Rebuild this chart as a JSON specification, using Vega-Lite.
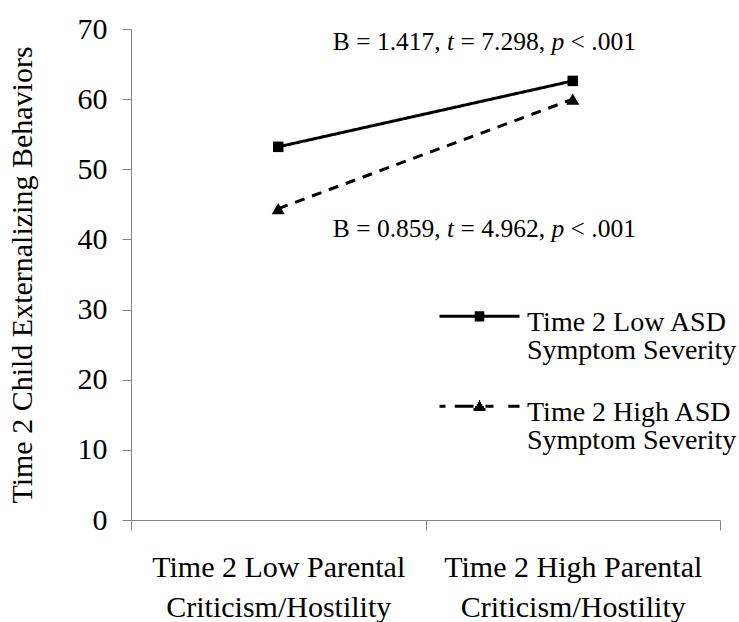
{
  "$schema": "https://vega.github.io/schema/vega-lite/v6.json",
  "width": 589,
  "height": 491,
  "autosize": {"type": "none"},
  "padding": {"left": 131, "top": 29, "right": 19, "bottom": 102},
  "background": "white",
  "config": {
    "view": {"stroke": null},
    "font": "Liberation Serif",
    "style": {"guide-label": {"font": "Liberation Serif", "lineHeight": 28}, "guide-title": {"font": "Liberation Serif"}},
    "axis": {"grid": false, "domainColor": "#868686", "tickColor": "#868686", "domainWidth": 1, "tickWidth": 1, "labelColor": "black", "titleColor": "black", "labelFont": "Liberation Serif", "titleFont": "Liberation Serif", "titleFontWeight": "normal"},
    "legend": {"labelFont": "Liberation Serif"}
  },
  "datasets": {
    "main": [
      {"pc": "Time 2 Low Parental Criticism/Hostility", "asd": "Time 2 Low ASD Symptom Severity", "value": 53.2},
      {"pc": "Time 2 High Parental Criticism/Hostility", "asd": "Time 2 Low ASD Symptom Severity", "value": 62.6},
      {"pc": "Time 2 Low Parental Criticism/Hostility", "asd": "Time 2 High ASD Symptom Severity", "value": 44.4},
      {"pc": "Time 2 High Parental Criticism/Hostility", "asd": "Time 2 High ASD Symptom Severity", "value": 60.0}
    ],
    "ann": [
      {"pc": "Time 2 High Parental Criticism/Hostility", "yv": 67.0, "b": "B = 1.417,", "tv": "= 7.298,", "pv": "< .001"},
      {"pc": "Time 2 High Parental Criticism/Hostility", "yv": 40.35, "b": "B = 0.859,", "tv": "= 4.962,", "pv": "< .001"}
    ]
  },
  "encoding": {
    "x": {
      "field": "pc", "type": "nominal",
      "sort": ["Time 2 Low Parental Criticism/Hostility", "Time 2 High Parental Criticism/Hostility"],
      "scale": {"type": "band", "paddingInner": 0, "paddingOuter": 0},
      "axis": {"title": null, "labelAngle": 0, "tickBand": "extent", "tickSize": 10, "labelFont": "Liberation Serif", "labelFontSize": 30, "labelLineHeight": 40, "labelPadding": 22, "labelLimit": 500,
        "labelExpr": "split(replace(datum.label, ' Criticism', '|Criticism'), '|')"}
    }
  },
  "layer": [
    {
      "data": {"name": "main"},
      "mark": {"type": "line", "color": "black", "strokeWidth": 3},
      "encoding": {
        "y": {"field": "value", "type": "quantitative", "scale": {"domain": [0, 70], "nice": false},
          "axis": {"title": "Time 2 Child Externalizing Behaviors", "titleFont": "Liberation Serif", "titleFontSize": 30, "titlePadding": 40, "values": [0, 10, 20, 30, 40, 50, 60, 70], "tickSize": 9, "labelPadding": 15, "labelFont": "Liberation Serif", "labelFontSize": 30}},
        "detail": {"field": "asd"},
        "strokeDash": {"field": "asd", "type": "nominal", "legend": null,
          "scale": {"domain": ["Time 2 Low ASD Symptom Severity", "Time 2 High ASD Symptom Severity"], "range": [[1, 0], [10, 8]]}}
      }
    },
    {
      "data": {"name": "main"},
      "mark": {"type": "point", "filled": true, "color": "black", "opacity": 1},
      "encoding": {
        "y": {"field": "value", "type": "quantitative"},
        "shape": {"field": "asd", "type": "nominal", "legend": null,
          "scale": {"domain": ["Time 2 Low ASD Symptom Severity", "Time 2 High ASD Symptom Severity"], "range": ["square", "triangle-up"]}},
        "size": {"field": "asd", "type": "nominal", "legend": null,
          "scale": {"domain": ["Time 2 Low ASD Symptom Severity", "Time 2 High ASD Symptom Severity"], "range": [110, 170]}}
      }
    },
    {
      "data": {"name": "main"},
      "mark": {"type": "point", "filled": false, "color": "black", "opacity": 0, "strokeWidth": 3},
      "encoding": {
        "shape": {"field": "asd", "type": "nominal",
          "scale": {"domain": ["Time 2 Low ASD Symptom Severity", "Time 2 High ASD Symptom Severity"],
            "range": ["M-2,0.39H2M-0.24,0.21H0.24M-0.24,0.33H0.24M-0.24,0.45H0.24M-0.24,0.57H0.24",
                      "M-2,0.39H-1.7M-1.24,0.39H-0.3M0.3,0.39H0.7M1.44,0.39H2M-0.3,0.55H0.3M-0.22,0.45H0.22M-0.14,0.35H0.14M-0.08,0.25H0.08M-0.03,0.15H0.03"]},
          "legend": {"title": null, "orient": "none", "legendX": 327, "legendY": 258, "symbolSize": 1600, "symbolStrokeWidth": 3, "symbolStrokeColor": "black", "symbolFillColor": "transparent", "symbolOpacity": 1,
            "labelFontSize": 28, "labelFont": "Liberation Serif", "labelColor": "black", "labelBaseline": "top", "labelOffset": 26, "rowPadding": 12, "padding": 0, "labelLimit": 300,
            "labelExpr": "split(replace(datum.label, ' Symptom', '|Symptom'), '|')",
            "encode": {"labels": {"update": {"lineHeight": {"value": 28}}}}}
        }
      }
    },
    {
      "data": {"name": "ann"},
      "mark": {"type": "text", "align": "left", "baseline": "alphabetic", "fontSize": 25.5, "font": "Liberation Serif", "color": "black", "dx": -240},
      "encoding": {"y": {"field": "yv", "type": "quantitative"}, "text": {"field": "b"}}
    },
    {
      "data": {"name": "ann"},
      "mark": {"type": "text", "align": "left", "baseline": "alphabetic", "fontSize": 25.5, "font": "Liberation Serif", "fontStyle": "italic", "color": "black", "dx": -125.7, "text": "t"},
      "encoding": {"y": {"field": "yv", "type": "quantitative"}}
    },
    {
      "data": {"name": "ann"},
      "mark": {"type": "text", "align": "left", "baseline": "alphabetic", "fontSize": 25.5, "font": "Liberation Serif", "color": "black", "dx": -112.2},
      "encoding": {"y": {"field": "yv", "type": "quantitative"}, "text": {"field": "tv"}}
    },
    {
      "data": {"name": "ann"},
      "mark": {"type": "text", "align": "left", "baseline": "alphabetic", "fontSize": 25.5, "font": "Liberation Serif", "fontStyle": "italic", "color": "black", "dx": -21.3, "text": "p"},
      "encoding": {"y": {"field": "yv", "type": "quantitative"}}
    },
    {
      "data": {"name": "ann"},
      "mark": {"type": "text", "align": "left", "baseline": "alphabetic", "fontSize": 25.5, "font": "Liberation Serif", "color": "black", "dx": -2.2},
      "encoding": {"y": {"field": "yv", "type": "quantitative"}, "text": {"field": "pv"}}
    }
  ],
  "resolve": {"scale": {"shape": "independent", "size": "independent"}}
}
